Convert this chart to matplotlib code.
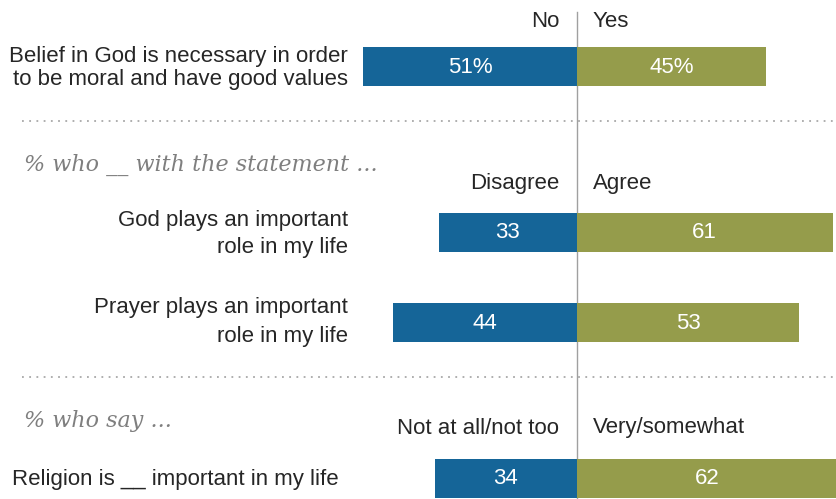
import matplotlib.pyplot as plt

# Survey items and shares (percent)
labels = ['Belief in God is necessary in order\nto be moral and have good values',
          'God plays an important\nrole in my life',
          'Prayer plays an important\nrole in my life',
          'Religion is __ important in my life']
neg_values = [51, 33, 44, 34]
pos_values = [45, 61, 53, 62]
value_text_neg = ['51%', '33', '44', '34']
value_text_pos = ['45%', '61', '53', '62']
neg_headers = ['No', 'Disagree', 'Not at all/not too']
pos_headers = ['Yes', 'Agree', 'Very/somewhat']
section_titles = ['% who __ with the statement ...', '% who say ...']

blue = '#156598'
green = '#959C4B'
text_color = '#262626'

# Layout in pixels (figure is 836 x 499)
W, H = 836, 499
x0 = 577          # position of the zero line
scale = 4.19      # pixels per percentage point


def px(x):
    return (x - x0) / scale


bar_y = [66.5, 232, 322.5, 478]
bar_h = 39
fs = 16

fig = plt.figure(figsize=(W / 100, H / 100), dpi=100)
ax = fig.add_axes([0, 0, 1, 1])
ax.set_xlim(px(0), px(W))
ax.set_ylim(H, 0)
ax.axis('off')

plt.rcParams['font.family'] = ['Liberation Sans', 'DejaVu Sans']

ax.barh(bar_y, [-v for v in neg_values], height=bar_h, color=blue)
ax.barh(bar_y, pos_values, height=bar_h, color=green)

for y, n, p, tn, tp in zip(bar_y, neg_values, pos_values, value_text_neg, value_text_pos):
    ax.text(-n / 2, y + 1, tn, ha='center', va='center', color='white', fontsize=fs)
    ax.text(p / 2, y + 1, tp, ha='center', va='center', color='white', fontsize=fs)

# zero line and dotted separators
ax.plot([0, 0], [12, H], color='#a0a0a0', lw=1, zorder=0)
for y in [121, 377]:
    ax.plot([px(22), px(W)], [y, y], color='#a8a8a8', lw=1.3,
            linestyle=(0, (1, 3)), zorder=0)

# column headers
for y, nh, ph in zip([21, 184, 428], neg_headers, pos_headers):
    ax.text(px(559), y, nh, ha='right', va='center', fontsize=fs, color=text_color)
    ax.text(px(593), y, ph, ha='left', va='center', fontsize=fs, color=text_color)

# row labels
ax.text(px(348), 68, labels[0], ha='right', va='center', fontsize=fs,
        color=text_color, linespacing=1.15, multialignment='right')
ax.text(px(348), 234, labels[1], ha='right', va='center', fontsize=fs,
        color=text_color, linespacing=1.35, multialignment='right')
ax.text(px(348), 322, labels[2], ha='right', va='center', fontsize=fs,
        color=text_color, linespacing=1.45, multialignment='right')
ax.text(px(12), 479, labels[3], ha='left', va='center', fontsize=fs, color=text_color)

# section titles
for y, t in zip([165, 421], section_titles):
    ax.text(px(24), y, t, ha='left', va='center', fontsize=16, color='#7f7f7f',
            style='italic', family=['DejaVu Serif'])

fig.savefig('out.png', dpi=100)
